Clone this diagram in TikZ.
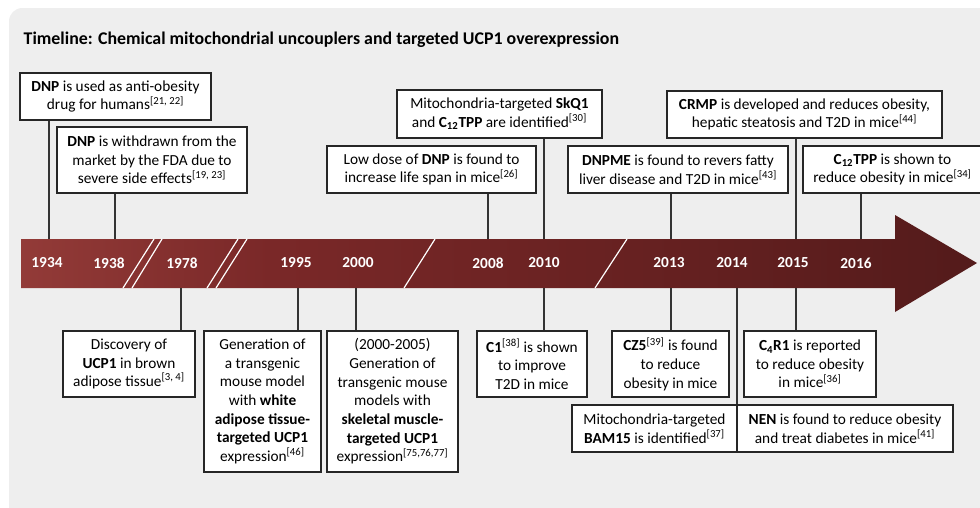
\documentclass[tikz,border=0pt]{standalone}
\usepackage{fontspec}
\setmainfont{Carlito}
\definecolor{panel}{RGB}{238,238,238}
\definecolor{tlA}{RGB}{186,116,112}
\definecolor{tlB}{RGB}{156,66,62}
\definecolor{tlC}{RGB}{122,40,40}
\definecolor{tlD}{RGB}{100,32,32}
\definecolor{tlE}{RGB}{56,18,18}
\pgfdeclarehorizontalshading{timeshade}{100bp}{color(0bp)=(tlA); color(20bp)=(tlB); color(38bp)=(tlC); color(60bp)=(tlD); color(100bp)=(tlE)}
\newcommand{\rf}[1]{\textsuperscript{[#1]}}
\begin{document}
\begin{tikzpicture}[x=0.75pt, y=-0.75pt,
  font=\fontsize{11.5}{14}\selectfont,
  box/.style 2 args={draw=black!85, line width=0.8pt, fill=white, align=center,
    inner sep=0pt, minimum width=#1*0.75pt, minimum height=#2*0.75pt},
  year/.style={text=white, font=\fontsize{11.5}{14}\selectfont\bfseries},
  link/.style={draw=black!80, line width=0.8pt},
  brk/.style={white, line width=0.9pt}]
\clip (0,0) rectangle (980,507);
\fill[panel, rounded corners=10] (9,8) rectangle (1010,530);
\node[anchor=base west, font=\fontsize{13.4}{16}\selectfont\bfseries] (title) at (19,44)
  {Timeline: Chemical mitochondrial uncouplers and targeted UCP1 overexpression};
% the time arrow
\shade[shading=timeshade] (21,239) -- (895,239) -- (895,215) -- (977,263)
  -- (895,312) -- (895,288) -- (21,288) -- cycle;
\draw[brk] (123,288) -- (154,239) (132,288) -- (162,239);
\draw[brk] (207,288) -- (238,239) (216,288) -- (247,239);
\draw[brk] (404,288) -- (435,239);
\draw[brk] (595,288) -- (627,239);
\foreach \yr/\x in {1934/47, 1938/109, 1978/182, 1995/296, 2000/358, 2008/488,
  2010/544, 2013/669, 2014/732, 2015/793, 2016/856}
  \node[year] (y\yr) at (\x,263) {\yr};
% events above
\node[box={191}{47}] (dnpuse) at (115.5,96.5) {\textbf{DNP} is used as anti-obesity\\drug for humans\rf{21, 22}};
\node[box={190}{66}] (dnpwd) at (152,160) {\textbf{DNP} is withdrawn from the\\market by the FDA due to\\severe side effects\rf{19, 23}};
\node[box={205}{48}] (skq) at (499.5,114) {Mitochondria-targeted \textbf{SkQ1}\\and \textbf{C\textsubscript{12}TPP} are identified\rf{30}};
\node[box={209}{47}] (lowdnp) at (431.5,169.5) {Low dose of \textbf{DNP} is found to\\increase life span in mice\rf{26}};
\node[box={275}{47}] (crmp) at (804.5,114.5) {\textbf{CRMP} is developed and reduces obesity,\\hepatic steatosis and T2D in mice\rf{44}};
\node[box={220}{47}] (dnpme) at (678,169.5) {\textbf{DNPME} is found to revers fatty\\liver disease and T2D in mice\rf{43}};
\node[box={179}{47}] (ctpp) at (892.5,169.5) {\textbf{C\textsubscript{12}TPP} is shown to\\reduce obesity in mice\rf{34}};
% events below
\node[box={132}{66}] (ucp) at (129,364) {Discovery of\\\textbf{UCP1} in brown\\adipose tissue\rf{3, 4}};
\node[box={117}{141}] (wat) at (262.5,401.5) {Generation of\\a transgenic\\mouse model\\with \textbf{white}\\\textbf{adipose tissue-}\\\textbf{targeted UCP1}\\expression\rf{46}};
\node[box={131}{141}] (skel) at (392.5,401.5) {(2000-2005)\\Generation of\\transgenic mouse\\models with\\\textbf{skeletal muscle-}\\\textbf{targeted UCP1}\\expression\rf{75,76,77}};
\node[box={110}{66}] (cone) at (532,364) {\textbf{C1}\rf{38} is shown\\to improve\\T2D in mice};
\node[box={117}{66}] (czf) at (670.5,364) {\textbf{CZ5}\rf{39} is found\\to reduce\\obesity in mice};
\node[box={132}{66}] (cfr) at (810,364) {\textbf{C\textsubscript{4}R1} is reported\\to reduce obesity\\in mice\rf{36}};
\node[box={165}{47}] (bam) at (654.5,428.5) {Mitochondria-targeted\\\textbf{BAM15} is identified\rf{37}};
\node[box={216}{47}] (nen) at (845,428.5) {\textbf{NEN} is found to reduce obesity\\and treat diabetes in mice\rf{41}};
% connectors
\foreach \x/\b in {49/dnpuse, 115/dnpwd, 488/lowdnp, 544/skq, 671/dnpme, 796/crmp, 861/ctpp} {
  \coordinate (t\b) at (\x,239);
  \draw[link] (t\b) -- (t\b |- \b.south);
}
\foreach \x/\b in {181/ucp, 298/wat, 356/skel, 544/cone, 671/czf, 737/bam, 796/cfr} {
  \coordinate (u\b) at (\x,288);
  \draw[link] (u\b) -- (u\b |- \b.north);
}
\end{tikzpicture}
\end{document}
